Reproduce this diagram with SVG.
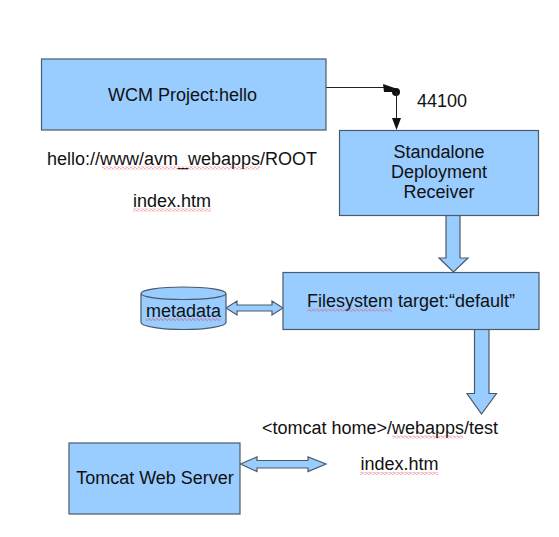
<svg xmlns="http://www.w3.org/2000/svg" width="559" height="537" viewBox="0 0 559 537">
<style>
.box{fill:#99ccff;stroke:#4a5a6a;stroke-width:1.2}
.t{font-family:"Liberation Sans",Arial,sans-serif;font-size:18px;fill:#111;text-anchor:middle}
.sq{fill:url(#squiggle)}
.line{fill:none;stroke:#222;stroke-width:1}
</style>
<defs>
<pattern id="squiggle" patternUnits="userSpaceOnUse" width="4" height="3">
<path d="M0 1.500Q1 -.5 2 1.500T4 1.500" fill="none" stroke="#e04050" stroke-width=".8"/>
</pattern>
</defs>
<rect width="559" height="537" fill="#fff"/>
<g id="connectors">
<path class="line" d="M326 87.500H388"/>
<path d="M383 84L396 88.500L396 92L384 92Z" fill="#111"/>
<circle cx="396" cy="92" r="4" fill="#111"/>
<path class="line" d="M396.500 92V120"/>
<path d="M392 118H401L396.500 130Z" fill="#111"/>
<path class="box" d="M446 215H460V258H468L453.500 272L439 258H446Z"/>
<path class="box" d="M474.500 329H489V393.500H496.500L481.500 414L467 393.500H474.500Z"/>
<path class="box" d="M226 308L237 301V305H272V301L283 308L272 315V311H237V315Z"/>
<path class="box" d="M240.500 464L257 457V460.500H308V457L326 464L308 471.500V468H257V471.500Z"/>
</g>
<g id="wcm">
<rect class="box" x="41.500" y="59" width="284.500" height="71"/>
<text class="t" x="182.500" y="101">WCM Project:hello</text>
</g>
<g id="root-label">
<text class="t" x="182" y="165">hello://www/avm_webapps/ROOT</text>
<rect class="sq" x="102" y="166.500" width="158" height="3"/>
</g>
<g id="index-1">
<text class="t" x="172" y="207">index.htm</text>
<rect class="sq" x="133" y="208.500" width="78" height="3"/>
</g>
<g id="port"><text class="t" x="442" y="107">44100</text></g>
<g id="receiver">
<rect class="box" x="339.500" y="130.500" width="199" height="85"/>
<text class="t" x="439" y="158">Standalone</text>
<text class="t" x="439" y="178">Deployment</text>
<text class="t" x="439" y="198">Receiver</text>
</g>
<g id="filesystem">
<rect class="box" x="283" y="272.500" width="256" height="57"/>
<text class="t" x="411" y="307">Filesystem target:“default”</text>
<rect class="sq" x="307" y="308.500" width="85" height="3"/>
</g>
<g id="metadata">
<path class="box" d="M141 293.500V322.500C141 326 160 329.500 183.500 329.500S226 326 226 322.500V293.500C226 290 207 287 183.500 287S141 290 141 293.500C141 297 160 299.500 183.500 299.500S226 297 226 293.500"/>
<text class="t" x="183.500" y="317">metadata</text>
<rect class="sq" x="146" y="318" width="75" height="3"/>
</g>
<g id="webapps-label">
<text class="t" x="380" y="434">&lt;tomcat home&gt;/webapps/test</text>
<rect class="sq" x="392" y="435.500" width="71" height="3"/>
</g>
<g id="index-2">
<text class="t" x="399.500" y="470">index.htm</text>
<rect class="sq" x="360" y="472" width="78" height="3"/>
</g>
<g id="tomcat">
<rect class="box" x="69" y="443" width="171" height="71"/>
<text class="t" x="155" y="484">Tomcat Web Server</text>
</g>
</svg>
